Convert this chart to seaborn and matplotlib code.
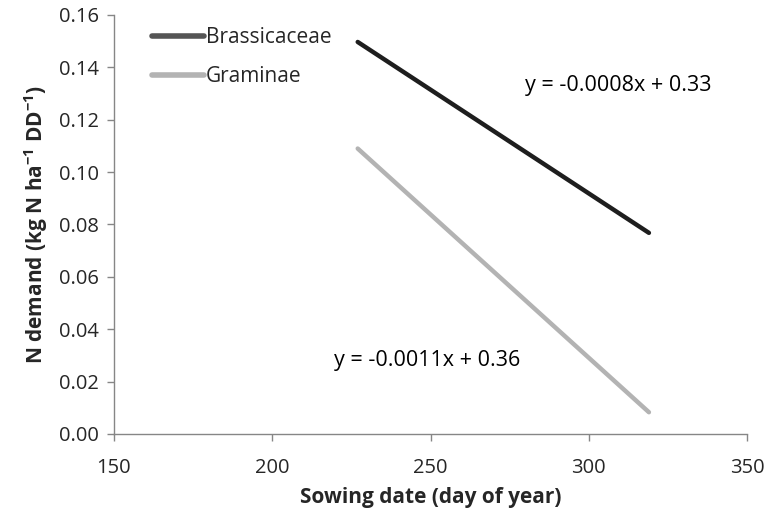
import matplotlib

matplotlib.use("Agg")
import matplotlib.pyplot as plt  # noqa: E402
import pandas as pd  # noqa: E402
import seaborn as sns  # noqa: E402

# endpoints of the two fitted lines (sowing day, N demand)
families = ["Brassicaceae", "Brassicaceae", "Graminae", "Graminae"]
sowing_day = [227, 319, 227, 319]
n_demand = [0.1497, 0.0768, 0.1090, 0.0083]
equations = ["y = -0.0008x + 0.33", "y = -0.0011x + 0.36"]
eq_pos = [(280, 0.133), (219.5, 0.028)]
line_colors = {"Brassicaceae": "#1e1e1e", "Graminae": "#b3b3b3"}

df = pd.DataFrame({"family": families, "day": sowing_day, "demand": n_demand})

sns.set_style("white")
plt.rcParams["font.family"] = ["Open Sans", "DejaVu Sans"]

fig = plt.figure(figsize=(7.67, 5.24), dpi=100)
ax = fig.add_axes([0.1486, 0.1718, 0.8254, 0.7996])

sns.lineplot(data=df, x="day", y="demand", hue="family", palette=line_colors,
             linewidth=3.2, ax=ax, solid_capstyle="round")

for txt, (x, y) in zip(equations, eq_pos):
    ax.text(x, y, txt, fontsize=15.5, va="center", ha="left", color="black")

ax.set_xlim(150, 350)
ax.set_ylim(0, 0.16)
ax.set_xticks([150, 200, 250, 300, 350])
ax.set_yticks([0, 0.02, 0.04, 0.06, 0.08, 0.10, 0.12, 0.14, 0.16])
ax.set_yticklabels([f"{v:.2f}" for v in ax.get_yticks()])
ax.tick_params(axis="both", labelsize=14.5, length=5, width=1, color="#868686",
               direction="out", bottom=True, left=True, pad=6)
ax.tick_params(axis="x", pad=12)
for side in ["top", "right"]:
    ax.spines[side].set_visible(False)
for side in ["left", "bottom"]:
    ax.spines[side].set_color("#868686")
    ax.spines[side].set_linewidth(1)

ax.set_xlabel("Sowing date (day of year)", fontsize=15, fontweight="bold", labelpad=7)
ax.set_ylabel("N demand (kg N ha$^{\\mathregular{-1}}$ DD$^{\\mathregular{-1}}$)",
              fontsize=15, fontweight="bold", labelpad=6)

leg = ax.legend(title=None, loc="upper left", bbox_to_anchor=(0.03, 1.015), frameon=False,
                fontsize=15, handlelength=2.5, handletextpad=0.1, labelspacing=0.85)
for h, c in zip(leg.get_lines(), ["#555555", "#b3b3b3"]):
    h.set_linewidth(4)
    h.set_color(c)

fig.savefig("out.png", dpi=100)
